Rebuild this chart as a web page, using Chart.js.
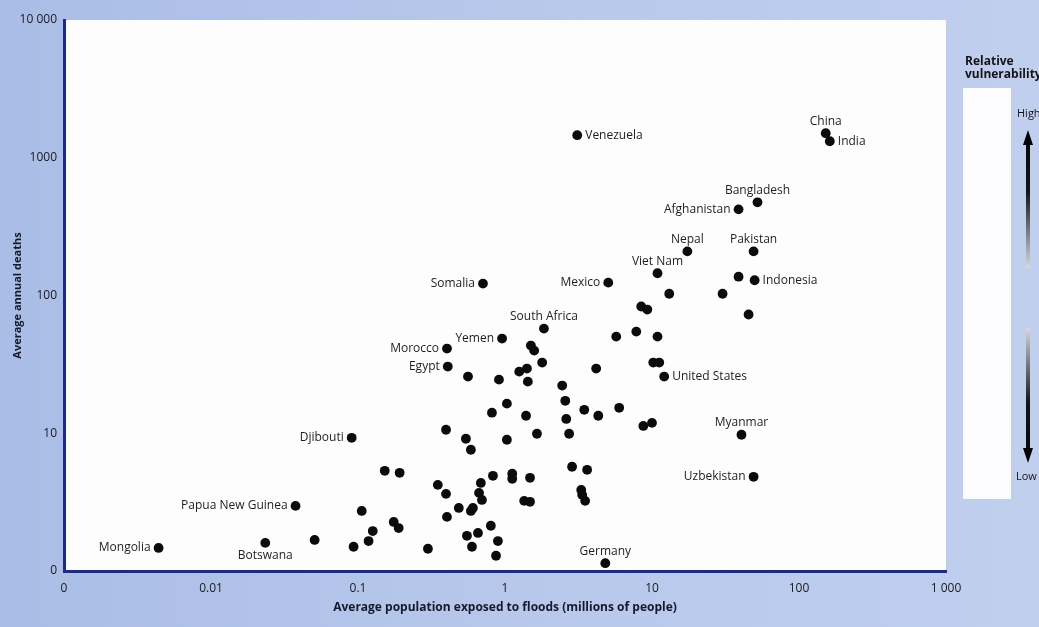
<!DOCTYPE html>
<html>
<head>
<meta charset="utf-8">
<script src="https://cdn.jsdelivr.net/npm/chart.js@4.4.1/dist/chart.umd.min.js"></script>
<style>
  html, body { margin: 0; padding: 0; background: #b6c7ea; }
  #wrap { position: relative; width: 1039px; height: 627px; overflow: hidden; }
  #c { position: absolute; left: 0; top: 0; }
  .leg { position: absolute; font-family: "Open Sans", sans-serif; color: #141414; white-space: nowrap; }
</style>
</head>
<body>
<div id="wrap">
  <canvas id="c" width="1039" height="627"></canvas>
  <div class="leg" style="left:965px; top:54px; font-weight:700; font-size:12px; line-height:13px;">Relative<br>vulnerability</div>
  <div style="position:absolute; left:963px; top:88px; width:48px; height:411px; background:#fcfcfe;"></div>
  <svg style="position:absolute; left:1016px; top:120px;" width="24" height="350" viewBox="1016 120 24 350">
    <defs>
      <linearGradient id="upFade" x1="0" y1="130" x2="0" y2="268" gradientUnits="userSpaceOnUse">
        <stop offset="0" stop-color="#050505"/>
        <stop offset="0.45" stop-color="#151515"/>
        <stop offset="1" stop-color="#d8d8dc"/>
      </linearGradient>
      <linearGradient id="downFade" x1="0" y1="328" x2="0" y2="463" gradientUnits="userSpaceOnUse">
        <stop offset="0" stop-color="#d8d8dc"/>
        <stop offset="0.55" stop-color="#151515"/>
        <stop offset="1" stop-color="#050505"/>
      </linearGradient>
    </defs>
    <rect x="1026" y="143" width="4" height="125" fill="url(#upFade)"/>
    <polygon points="1028,130 1023,145 1033,145" fill="#050505"/>
    <rect x="1026" y="328" width="4" height="122" fill="url(#downFade)"/>
    <polygon points="1023,448 1033,448 1028,463" fill="#050505"/>
  </svg>
  <div class="leg" style="left:1017px; top:105px; font-size:11px;">High</div>
  <div class="leg" style="left:1016px; top:468px; font-size:11px;">Low</div>
</div>
<script>
// Named countries: average population exposed (millions) and average annual deaths
const countries = ['Mongolia', 'Botswana', 'Papua New Guinea', 'Djibouti', 'Morocco', 'Egypt',
  'Somalia', 'Yemen', 'South Africa', 'Venezuela', 'Mexico', 'Germany', 'Viet Nam', 'Nepal',
  'United States', 'Afghanistan', 'Bangladesh', 'Pakistan', 'Indonesia', 'Myanmar',
  'Uzbekistan', 'China', 'India'];
const countryExposed = [0.0044, 0.0234, 0.0376, 0.0906, 0.403, 0.408, 0.708, 0.955, 1.84, 3.10,
  5.04, 4.81, 10.9, 17.4, 12.1, 38.8, 52.2, 49.1, 49.9, 40.6, 49.1, 152, 162];
const countryDeaths = [1.47, 1.60, 2.97, 9.27, 41.2, 30.5, 122, 48.7, 57.5, 1458,
  124, 1.14, 145, 209, 25.8, 422, 475, 209, 129, 9.75, 4.83, 1507, 1318];

// Remaining countries, unnamed on the chart
const otherExposed = [0.0507, 38.8, 13.1, 30.2, 45.4, 8.45, 9.29, 5.71, 7.82, 10.9,
  4.17, 10.2, 11.2, 1.50, 1.58, 1.79, 1.25, 1.41, 1.43, 0.560,
  0.910, 2.45, 2.57, 3.46, 4.31, 5.98, 2.61, 1.03, 0.815, 1.39,
  8.73, 10.0, 0.397, 0.542, 0.586, 1.03, 1.65, 2.73, 0.152, 0.192,
  0.349, 0.397, 0.685, 0.666, 0.697, 0.828, 1.12, 1.12, 1.48, 1.35,
  1.48, 2.86, 3.62, 3.30, 3.35, 3.51, 0.106, 0.485, 0.586, 0.605,
  0.403, 0.175, 0.189, 0.126, 0.118, 0.0933, 0.299, 0.551, 0.655, 0.801,
  0.895, 0.596, 0.869];
const otherDeaths = [1.68, 137, 103, 103, 72.8, 83.2, 79.1, 50.3, 54.7, 50.3,
  29.5, 32.6, 32.6, 43.3, 39.8, 32.6, 28.0, 29.5, 23.7, 25.8,
  24.5, 22.2, 17.2, 14.8, 13.4, 15.3, 12.7, 16.4, 14.1, 13.4,
  11.3, 11.9, 10.6, 9.12, 7.59, 8.97, 9.92, 9.92, 5.34, 5.16,
  4.22, 3.63, 4.36, 3.69, 3.28, 4.91, 5.08, 4.67, 4.75, 3.23,
  3.18, 5.71, 5.43, 3.88, 3.57, 3.23, 2.73, 2.87, 2.73, 2.87,
  2.47, 2.27, 2.05, 1.95, 1.65, 1.50, 1.45, 1.80, 1.89, 2.13,
  1.65, 1.50, 1.29];

// Axis ticks
const xTickValues = [0.001, 0.01, 0.1, 1, 10, 100, 1000];
const xTickText = ['0', '0.01', '0.1', '1', '10', '100', '1 000'];
const yTickValues = [1, 10, 100, 1000, 10000];
const yTickText = ['0', '10', '100', '1000', '10 000'];

// Where each country name sits relative to its dot
const labelSide = {
  'Mongolia': 'left', 'Botswana': 'below', 'Papua New Guinea': 'left', 'Djibouti': 'left',
  'Morocco': 'left', 'Egypt': 'left', 'Somalia': 'left', 'Yemen': 'left',
  'South Africa': 'above', 'Venezuela': 'right', 'Mexico': 'left', 'Germany': 'above',
  'Viet Nam': 'above', 'Nepal': 'above', 'United States': 'right', 'Afghanistan': 'left',
  'Bangladesh': 'above', 'Pakistan': 'above', 'Indonesia': 'right', 'Myanmar': 'above',
  'Uzbekistan': 'left', 'China': 'above', 'India': 'right'
};

const FONT = '"Open Sans", "DejaVu Sans", sans-serif';
const AXIS_BLUE = '#1c2a8e';

// Blue page with the white plotting panel
const panelBackground = {
  id: 'panelBackground',
  beforeDraw(chart) {
    const { ctx, chartArea: a, width, height } = chart;
    ctx.save();
    const g = ctx.createLinearGradient(0, 0, width, 0);
    g.addColorStop(0, '#aabde6');
    g.addColorStop(0.5, '#b7c8eb');
    g.addColorStop(1, '#c0cfee');
    ctx.fillStyle = g;
    ctx.fillRect(0, 0, width, height);
    ctx.fillStyle = '#fdfdfe';
    ctx.fillRect(a.left, a.top, a.right - a.left, a.bottom - a.top);
    ctx.restore();
  }
};

// Country names next to their dots
const countryNames = {
  id: 'countryNames',
  afterDatasetsDraw(chart) {
    const ctx = chart.ctx;
    const meta = chart.getDatasetMeta(0);
    ctx.save();
    ctx.font = '12px ' + FONT;
    ctx.fillStyle = '#1e1e1e';
    meta.data.forEach((pt, i) => {
      const name = countries[i];
      const side = labelSide[name];
      let x = pt.x, y = pt.y;
      if (side === 'left') { ctx.textAlign = 'right'; ctx.textBaseline = 'middle'; x -= 8; }
      else if (side === 'right') { ctx.textAlign = 'left'; ctx.textBaseline = 'middle'; x += 8; }
      else if (side === 'above') { ctx.textAlign = 'center'; ctx.textBaseline = 'middle'; y -= 12; }
      else { ctx.textAlign = 'center'; ctx.textBaseline = 'middle'; y += 13; }
      ctx.fillText(name, x, y);
    });
    ctx.restore();
  }
};

const namedPoints = countries.map((c, i) => ({ x: countryExposed[i], y: countryDeaths[i] }));
const otherPoints = otherExposed.map((v, i) => ({ x: v, y: otherDeaths[i] }));

new Chart(document.getElementById('c'), {
  type: 'scatter',
  data: {
    datasets: [
      { data: namedPoints, backgroundColor: '#0b0b0b', borderWidth: 0, pointRadius: 4.9, clip: false },
      { data: otherPoints, backgroundColor: '#0b0b0b', borderWidth: 0, pointRadius: 4.9, clip: false }
    ]
  },
  options: {
    responsive: false,
    animation: false,
    devicePixelRatio: 1,
    layout: { padding: { top: 20, right: 93, left: 0, bottom: 0 } },
    plugins: { legend: { display: false }, tooltip: { enabled: false } },
    scales: {
      x: {
        type: 'logarithmic',
        position: 'bottom',
        min: 0.001,
        max: 1000,
        grid: { display: false, drawTicks: false },
        border: { display: true, color: AXIS_BLUE, width: 3 },
        afterBuildTicks: s => { s.ticks = xTickValues.map(v => ({ value: v })); },
        afterFit: s => { s.height = 56; },
        ticks: {
          autoSkip: false, maxRotation: 0, padding: 10, color: '#1a1a1a',
          font: { family: FONT, size: 12 },
          callback: (v, i) => xTickText[i]
        },
        title: {
          display: true,
          text: 'Average population exposed to floods (millions of people)',
          color: '#151a2a',
          font: { family: FONT, size: 12, weight: 'bold' },
          padding: { top: 0, bottom: 12 }
        }
      },
      y: {
        type: 'logarithmic',
        position: 'left',
        min: 1,
        max: 10000,
        grid: { display: false, drawTicks: false },
        border: { display: true, color: AXIS_BLUE, width: 3 },
        afterBuildTicks: s => { s.ticks = yTickValues.map(v => ({ value: v })); },
        afterFit: s => { s.width = 64; },
        ticks: {
          autoSkip: false, padding: 7, color: '#1a1a1a',
          font: { family: FONT, size: 12 },
          callback: (v, i) => yTickText[i]
        },
        title: {
          display: true,
          text: 'Average annual deaths',
          color: '#151a2a',
          font: { family: FONT, size: 11, weight: 'bold' },
          padding: { top: 11, bottom: 0 }
        }
      }
    }
  },
  plugins: [panelBackground, countryNames]
});
</script>
</body>
</html>
